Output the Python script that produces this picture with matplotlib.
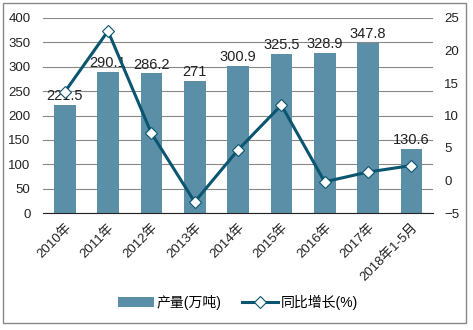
import numpy as np
import matplotlib.pyplot as plt
from matplotlib.patches import Rectangle

plt.rcParams['font.family'] = ['Liberation Sans', 'Noto Sans CJK SC']

years = ['2010年', '2011年', '2012年', '2013年', '2014年', '2015年', '2016年', '2017年', '2018年1-5月']
output = [221.5, 290.1, 286.2, 271, 300.9, 325.5, 328.9, 347.8, 130.6]
growth = [13.6, 23.0, 7.3, -3.3, 4.7, 11.6, -0.2, 1.3, 2.3]

bar_color = '#5b8fa7'
line_color = '#0b5570'

fig = plt.figure(figsize=(4.73, 3.30), dpi=100)
ax = fig.add_axes([43 / 473, 1 - 213 / 330, 390 / 473, 195 / 330])
ax2 = ax.twinx()

x = np.arange(len(years))
bars = ax.bar(x, output, width=0.5, color=bar_color, label='产量(万吨)', zorder=2)
for xi, v in zip(x, output):
    ax.text(xi, v + 4, f'{v:g}', ha='center', va='bottom', fontsize=10.5, color='#222222', zorder=3)

ax.set_ylim(0, 400)
ax.set_yticks(range(0, 401, 50))
ax.set_xlim(-0.5, len(years) - 0.5)
ax.grid(axis='y', color='#888888', linewidth=0.8, zorder=0)
ax.set_axisbelow(True)
ax.set_xticks(x)
ax.set_xticklabels(years, rotation=45, ha='right', rotation_mode='anchor', fontsize=9.5)
for s in ['top', 'left', 'right']:
    ax.spines[s].set_visible(False)
ax.spines['bottom'].set_color('#222222')
ax.tick_params(axis='both', length=0, labelsize=9.5, colors='#222222')
ax.tick_params(axis='y', pad=9)
ax.tick_params(axis='x', pad=6)

ax2.plot(x, growth, color=line_color, linewidth=2.2, marker='D', markersize=6.5,
         markerfacecolor='white', markeredgecolor=line_color, markeredgewidth=0.8,
         label='同比增长(%)', zorder=4)
ax2.set_ylim(-5, 25)
ax2.set_yticks(range(-5, 26, 5))
for s in ['top', 'left', 'right', 'bottom']:
    ax2.spines[s].set_visible(False)
ax2.tick_params(axis='y', length=0, labelsize=9.5, colors='#222222', pad=8)

h1, l1 = ax.get_legend_handles_labels()
h2, l2 = ax2.get_legend_handles_labels()
fig.legend(h1 + h2, l1 + l2, loc='center', bbox_to_anchor=(238 / 473, 1 - 302 / 330),
           ncol=2, frameon=False, fontsize=10, handlelength=2.6, columnspacing=1.5,
           handletextpad=0.2)

fig.patches.append(Rectangle((3 / 473, 1 - 323 / 330), 463 / 473, 320 / 330,
                             transform=fig.transFigure, fill=False,
                             edgecolor='#888888', linewidth=1))

fig.savefig('out.png', dpi=100)
